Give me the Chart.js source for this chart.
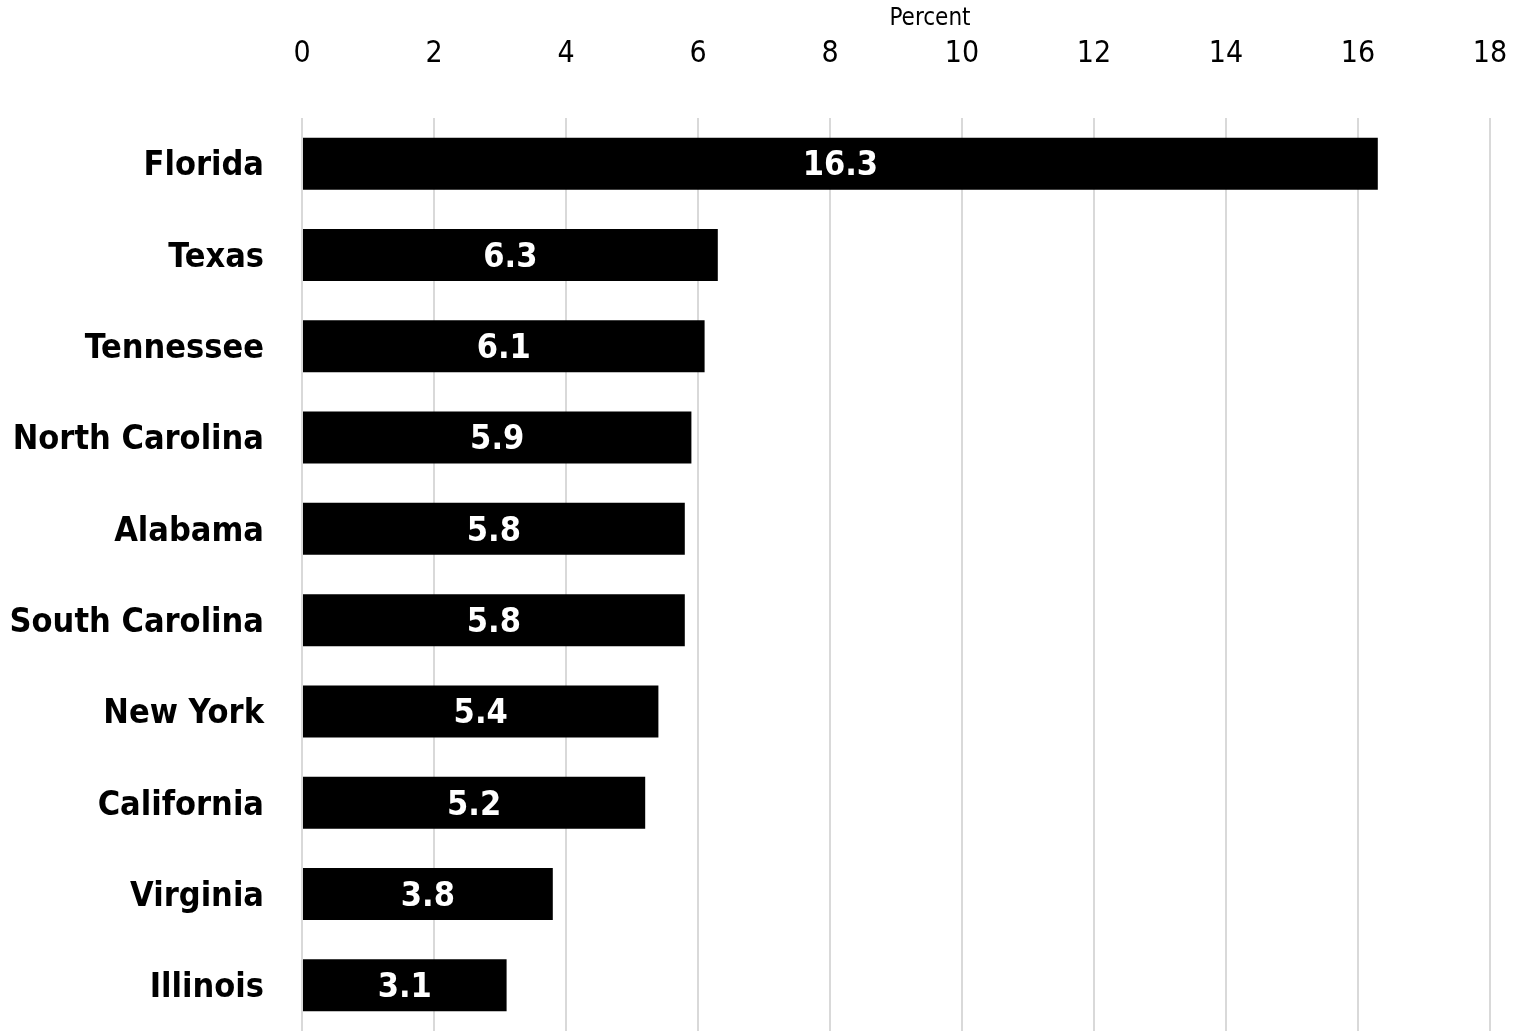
<!DOCTYPE html>
<html>
<head>
<meta charset="utf-8">
<script src="https://cdn.jsdelivr.net/npm/chart.js@4"></script>
<style>
  html, body { margin: 0; padding: 0; background: #fff; overflow: hidden; }
  canvas { display: block; }
</style>
</head>
<body>
<canvas id="chart" width="1534" height="1031"></canvas>
<script>
const states = ["Florida", "Texas", "Tennessee", "North Carolina", "Alabama",
  "South Carolina", "New York", "California", "Virginia", "Illinois"];
const percents = [16.3, 6.3, 6.1, 5.9, 5.8, 5.8, 5.4, 5.2, 3.8, 3.1];
const xTicks = [0, 2, 4, 6, 8, 10, 12, 14, 16, 18];
const axisTitle = "Percent";

const FONT = "'DejaVu Sans Condensed', 'Liberation Sans Narrow', 'Arial Narrow', sans-serif";

// white value labels in the middle of each bar, plus the axis title
const barLabels = {
  id: "barLabels",
  afterDatasetsDraw(chart) {
    const ctx = chart.ctx;
    const meta = chart.getDatasetMeta(0);
    ctx.save();
    ctx.fillStyle = "#fff";
    ctx.font = "bold 34px " + FONT;
    ctx.textAlign = "center";
    ctx.textBaseline = "middle";
    meta.data.forEach((bar, i) => {
      const x = (bar.x + bar.base) / 2;
      ctx.fillText(percents[i].toFixed(1), x, bar.y + 3);
    });
    // title sits a little right of centre in the original
    const area = chart.chartArea;
    ctx.fillStyle = "#000";
    ctx.font = "24px " + FONT;
    ctx.fillText(axisTitle, (area.left + area.right) / 2 + 34, 19);
    ctx.restore();
  }
};

new Chart(document.getElementById("chart"), {
  type: "bar",
  data: {
    labels: states,
    datasets: [{
      data: percents,
      backgroundColor: "#000",
      borderWidth: 0,
      categoryPercentage: 1,
      barPercentage: 0.57
    }]
  },
  options: {
    indexAxis: "y",
    responsive: false,
    animation: false,
    layout: { padding: { left: 0, right: 44, top: 0, bottom: -3 } },
    plugins: { legend: { display: false }, tooltip: { enabled: false } },
    scales: {
      x: {
        position: "top",
        min: 0,
        max: 18,
        afterBuildTicks: s => { s.ticks = xTicks.map(v => ({ value: v })); },
        afterFit: s => { s.height = 118; s.paddingLeft = 0; s.paddingRight = 0; },
        grid: { color: "#d9d9d9", lineWidth: 2, drawTicks: false },
        border: { display: false },
        ticks: { color: "#000", padding: 46, font: { family: FONT, size: 30 } },
        title: { display: false }
      },
      y: {
        afterFit: s => { s.width = 302; s.paddingTop = 0; s.paddingBottom = 0; },
        grid: { display: false, drawTicks: false },
        border: { display: false },
        ticks: { color: "#000", padding: 38, labelOffset: 3, font: { family: FONT, size: 34, weight: "bold" } }
      }
    }
  },
  plugins: [barLabels]
});
</script>
</body>
</html>
